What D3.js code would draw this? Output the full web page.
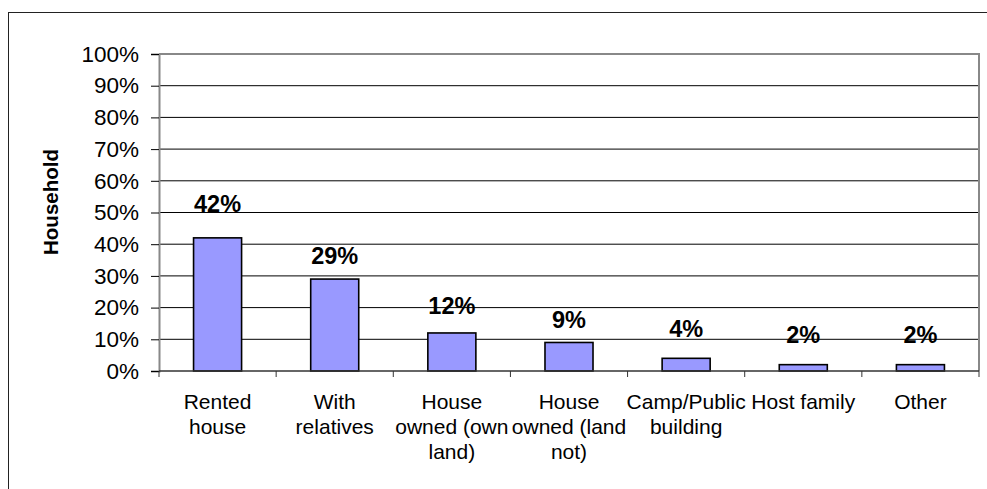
<!DOCTYPE html>
<html>
<head>
<meta charset="utf-8">
<script src="https://cdn.jsdelivr.net/npm/d3@7"></script>
<style>
  html, body { margin: 0; padding: 0; background: #fff; }
  svg { display: block; font-family: Arial, "Liberation Sans", sans-serif; }
</style>
</head>
<body>
<svg id="chart" width="987" height="489"></svg>
<script>
// Household accommodation by type
const categories = [
  ["Rented", "house"],
  ["With", "relatives"],
  ["House", "owned (own", "land)"],
  ["House", "owned (land", "not)"],
  ["Camp/Public", "building"],
  ["Host family"],
  ["Other"]
];
const shares = [42, 29, 12, 9, 4, 2, 2];
const yTicks = [0, 10, 20, 30, 40, 50, 60, 70, 80, 90, 100];
const yTitle = "Household";

const svg = d3.select("#chart");

// outer frame of the figure
svg.append("rect")
  .attr("x", 8.5).attr("y", 12.5)
  .attr("width", 1000).attr("height", 500)
  .attr("fill", "none").attr("stroke", "#222").attr("stroke-width", 1);

const plot = { left: 159, right: 979, top: 54, bottom: 371 };

const x = d3.scaleBand()
  .domain(d3.range(categories.length))
  .range([plot.left, plot.right])
  .paddingInner(0.59)
  .paddingOuter(0.295);

const y = d3.scaleLinear().domain([0, 100]).range([plot.bottom, plot.top]);

// horizontal gridlines
svg.append("g")
  .selectAll("line")
  .data(yTicks.filter(t => t > 0 && t < 100))
  .join("line")
  .attr("x1", plot.left).attr("x2", plot.right)
  .attr("y1", d => y(d)).attr("y2", d => y(d))
  .attr("stroke", "#000").attr("stroke-width", 1);

// plot border (top and right) in gray
svg.append("path")
  .attr("d", `M${plot.left},${y(100)}H${plot.right}V${plot.bottom}`)
  .attr("fill", "none").attr("stroke", "#888").attr("stroke-width", 2);

// y axis
const yAxis = d3.axisLeft(y)
  .tickValues(yTicks)
  .tickFormat(d => d + "%")
  .tickSize(8)
  .tickPadding(12);
const gy = svg.append("g")
  .attr("transform", `translate(${plot.left},0)`)
  .call(yAxis);
gy.select(".domain").attr("stroke", "#888").attr("stroke-width", 2);
gy.selectAll(".tick line").attr("stroke", "#000");
gy.selectAll(".tick text")
  .attr("fill", "#000")
  .style("font-size", "22.5px")
  .style("font-family", "Arial, 'Liberation Sans', sans-serif");

// bars
svg.append("g")
  .selectAll("rect")
  .data(shares)
  .join("rect")
  .attr("x", (d, i) => x(i))
  .attr("y", d => y(d))
  .attr("width", x.bandwidth())
  .attr("height", d => y(0) - y(d))
  .attr("fill", "#9999FF")
  .attr("stroke", "#000")
  .attr("stroke-width", 1.6);

// x axis with ticks between categories
const step = x.step();
const catEdges = d3.range(categories.length + 1).map(i => plot.left + i * step);
svg.append("line")
  .attr("x1", plot.left).attr("x2", plot.right)
  .attr("y1", plot.bottom).attr("y2", plot.bottom)
  .attr("stroke", "#333").attr("stroke-width", 1.5);
svg.append("g")
  .selectAll("line")
  .data(catEdges)
  .join("line")
  .attr("x1", d => d).attr("x2", d => d)
  .attr("y1", plot.bottom).attr("y2", plot.bottom + 6)
  .attr("stroke", "#333").attr("stroke-width", 1);

// category labels
const catLabels = svg.append("g")
  .selectAll("text")
  .data(categories)
  .join("text")
  .attr("text-anchor", "middle")
  .attr("y", 409)
  .style("font-size", "21px")
  .attr("fill", "#000");
catLabels.selectAll("tspan")
  .data((d, i) => d.map(line => ({ line, i })))
  .join("tspan")
  .attr("x", d => x(d.i) + x.bandwidth() / 2)
  .attr("dy", (d, j) => j === 0 ? 0 : 25)
  .text(d => d.line);

// value labels above bars (lift in px above each bar top)
const labelLift = [26, 15, 19, 14, 21, 22, 22];
svg.append("g")
  .selectAll("text")
  .data(shares)
  .join("text")
  .attr("x", (d, i) => x(i) + x.bandwidth() / 2)
  .attr("y", (d, i) => y(d) - labelLift[i])
  .attr("text-anchor", "middle")
  .style("font-size", "23.5px")
  .style("font-weight", "bold")
  .attr("fill", "#000")
  .text(d => d + "%");

// y axis title
svg.append("text")
  .attr("transform", "translate(58,202) rotate(-90)")
  .attr("text-anchor", "middle")
  .style("font-size", "20.5px")
  .style("font-weight", "bold")
  .attr("fill", "#000")
  .text(yTitle);
</script>
</body>
</html>
